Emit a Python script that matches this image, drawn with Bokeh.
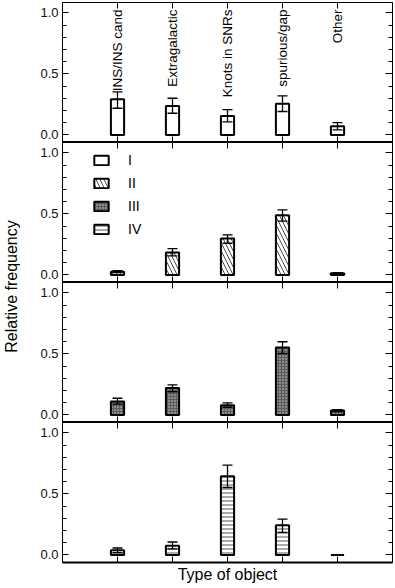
import numpy as np
from bokeh.plotting import figure
from bokeh.models import (ColumnDataSource, Range1d, FactorRange, LinearAxis, CategoricalAxis,
                          FixedTicker, NumeralTickFormatter, Whisker, TeeHead, Legend, LegendItem, Label)
from bokeh.layouts import row, column
from bokeh.embed import file_html
from bokeh.resources import INLINE
from bokeh.core.properties import value

# ---------------- data ----------------
categories = ["INS/INS cand", "Extragalactic", "Knots in SNRs", "spurious/gap", "Other"]
class_names = ["I", "II", "III", "IV"]

freq_I = [0.293, 0.238, 0.156, 0.255, 0.071]
err_hi_I = [0.353, 0.301, 0.208, 0.321, 0.101]
err_lo_I = [0.219, 0.178, 0.107, 0.192, 0.041]

freq_II = [0.027, 0.184, 0.299, 0.490, 0.014]
err_hi_II = [0.036, 0.216, 0.329, 0.534, 0.019]
err_lo_II = [0.020, 0.156, 0.260, 0.441, 0.010]

freq_III = [0.110, 0.220, 0.080, 0.553, 0.036]
err_hi_III = [0.137, 0.247, 0.099, 0.600, 0.044]
err_lo_III = [0.088, 0.190, 0.063, 0.504, 0.025]

freq_IV = [0.038, 0.076, 0.646, 0.243, 0.0]
err_hi_IV = [0.057, 0.106, 0.736, 0.294, 0.0]
err_lo_IV = [0.019, 0.049, 0.553, 0.185, 0.0]

y_major_ticks = [0.0, 0.5, 1.0]
y_minor_ticks = [0.0, 0.1, 0.2, 0.3, 0.4, 0.5, 0.6, 0.7, 0.8, 0.9, 1.0]

# ---------------- styles ----------------
FONT = "Liberation Sans"
FRAME_W, FRAME_H = 330, 140
Y0, Y1 = -0.062, 1.086

styles = {
    "I": dict(fill_color="white", hatch_pattern=None),
    "II": dict(fill_color="white", hatch_pattern="left_diagonal_line", hatch_scale=8,
               hatch_weight=0.8, hatch_color="#222222"),
    "III": dict(fill_color="#5a5a5a", hatch_pattern="dot", hatch_scale=3,
                hatch_weight=1, hatch_color="#d8d8d8"),
    "IV": dict(fill_color="white", hatch_pattern="horizontal_line", hatch_scale=4,
               hatch_weight=1, hatch_color="#555555"),
}

x_range = FactorRange(*categories, range_padding=0.2)


def hide_labels(ax):
    ax.major_label_text_font_size = "0px"
    ax.major_label_text_color = None
    ax.major_label_standoff = 0


def make_panel(freq, hi, lo, cls, top_panel=False, bottom_panel=False):
    p = figure(x_range=x_range, y_range=Range1d(Y0, Y1),
               frame_width=FRAME_W, frame_height=FRAME_H,
               output_backend="svg", toolbar_location=None,
               x_axis_location=None, y_axis_location=None,
               min_border_left=42, min_border_right=3,
               min_border_top=2 if top_panel else 0, min_border_bottom=0)
    p.grid.visible = False
    p.outline_line_color = "black"
    p.outline_line_width = 1
    p.background_fill_color = "white"
    p.border_fill_color = "white"

    ticker = FixedTicker(ticks=y_major_ticks, minor_ticks=y_minor_ticks)
    left = LinearAxis(ticker=ticker, formatter=NumeralTickFormatter(format="0.0"))
    left.major_tick_in = 6
    left.major_tick_out = 0
    left.minor_tick_in = 4
    left.minor_tick_out = 0
    left.axis_line_color = "black"
    left.major_tick_line_color = "black"
    left.minor_tick_line_color = "black"
    left.major_label_text_font = FONT
    left.major_label_text_font_size = "13px"
    left.major_label_text_color = "#111111"
    left.major_label_standoff = 4
    p.add_layout(left, "left")

    right = LinearAxis(ticker=FixedTicker(ticks=y_major_ticks, minor_ticks=y_minor_ticks))
    right.major_tick_in = 7
    right.major_tick_out = 0
    right.minor_tick_in = 4
    right.minor_tick_out = 0
    hide_labels(right)
    p.add_layout(right, "right")

    top = CategoricalAxis()
    top.major_tick_in = 6
    top.major_tick_out = 0
    top.axis_line_width = 1
    hide_labels(top)
    p.add_layout(top, "above")

    bottom = CategoricalAxis()
    bottom.major_tick_in = 6
    bottom.major_tick_out = 0
    bottom.axis_line_width = 2
    hide_labels(bottom)
    if bottom_panel:
        bottom.axis_label = "Type of object"
        bottom.axis_label_text_font = FONT
        bottom.axis_label_text_font_size = "16px"
        bottom.axis_label_text_font_style = "normal"
        bottom.axis_label_text_color = "black"
        bottom.axis_label_standoff = 3
    p.add_layout(bottom, "below")

    src = ColumnDataSource(dict(cat=categories, top=freq, hi=hi, lo=lo))
    st = styles[cls]
    r = p.vbar(x="cat", top="top", bottom=0, width=0.24, source=src,
               line_color="black", line_width=2, **st)

    w = Whisker(base="cat", upper="hi", lower="lo", source=src, dimension="height",
                line_color="black", line_width=1.3, level="overlay",
                upper_head=TeeHead(size=10, line_color="black", line_width=1.3),
                lower_head=TeeHead(size=10, line_color="black", line_width=1.3))
    p.add_layout(w)

    if top_panel:
        ylab = Y1 - 7.0 * (Y1 - Y0) / FRAME_H
        p.text(x=categories, y=ylab, text=categories, angle=np.pi / 2,
               text_align="right", text_baseline="middle",
               text_font=value(FONT), text_font_size="13.5px", text_color="black")
    return p, r


p1, r1 = make_panel(freq_I, err_hi_I, err_lo_I, "I", top_panel=True)
p2, r2 = make_panel(freq_II, err_hi_II, err_lo_II, "II")
p3, r3 = make_panel(freq_III, err_hi_III, err_lo_III, "III")
p4, r4 = make_panel(freq_IV, err_hi_IV, err_lo_IV, "IV", bottom_panel=True)

# legend proxies in panel 2 (one undrawn NaN bar each, only used for the legend swatch)
proxies = {}
for cls in class_names:
    if cls == "II":
        proxies[cls] = r2
    else:
        proxy_src = ColumnDataSource(dict(cat=[categories[0]], top=[np.nan]))
        proxies[cls] = p2.vbar(x="cat", top="top", bottom=0, width=0.24, source=proxy_src,
                               line_color="black", line_width=2, **styles[cls])

LEG_ROW, LEG_SP = 18, 5
LEG_H = 4 * LEG_ROW + 3 * LEG_SP
legend = Legend(items=[LegendItem(label=c, renderers=[proxies[c]]) for c in class_names],
                location=(30, FRAME_H - 9 - LEG_H), orientation="vertical",
                glyph_width=18, glyph_height=12, label_height=LEG_ROW, spacing=LEG_SP,
                label_standoff=18, padding=0, margin=0,
                border_line_color=None, background_fill_alpha=0,
                label_text_font=FONT, label_text_font_size="14px", label_text_color="black")
p2.add_layout(legend, "center")

# y-axis title panel
LAB_H = 2 + 4 * FRAME_H
lab = figure(width=20, height=LAB_H, output_backend="svg", toolbar_location=None,
             x_axis_location=None, y_axis_location=None, min_border=0,
             x_range=Range1d(0, 1), y_range=Range1d(0, 1))
lab.grid.visible = False
lab.outline_line_color = None
lab.add_layout(Label(x=10.5, y=LAB_H - 286, x_units="screen", y_units="screen",
                     text="Relative frequency", angle=90, angle_units="deg",
                     text_align="center", text_baseline="middle",
                     text_font=FONT, text_font_size="16px", text_color="black"))

layout = row(lab, column(p1, p2, p3, p4, spacing=0), spacing=0)

open("out.html", "w").write(file_html(layout, INLINE))
